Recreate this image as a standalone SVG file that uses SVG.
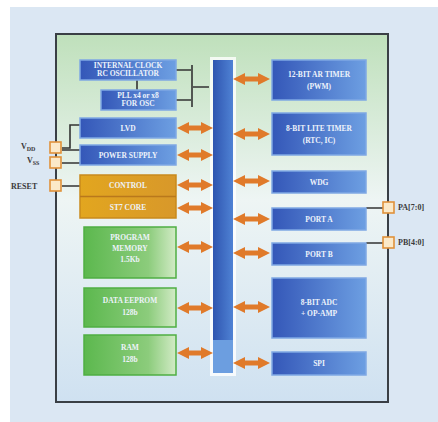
<svg xmlns="http://www.w3.org/2000/svg" width="438" height="422" viewBox="0 0 438 422">
<defs>
<linearGradient id="chip" x1="0" y1="0" x2="0" y2="1">
<stop offset="0" stop-color="#bfe0bb"/><stop offset="0.45" stop-color="#eef5f4"/><stop offset="1" stop-color="#cfe1f1"/>
</linearGradient>
<linearGradient id="blue" x1="0" y1="0" x2="1" y2="0">
<stop offset="0" stop-color="#3457b8"/><stop offset="1" stop-color="#6d9fe2"/>
</linearGradient>
<linearGradient id="green" x1="0" y1="0" x2="1" y2="0">
<stop offset="0" stop-color="#5cb84e"/><stop offset="0.7" stop-color="#8ccc7c"/><stop offset="1" stop-color="#d2ebc6"/>
</linearGradient>
<linearGradient id="yel" x1="0" y1="0" x2="1" y2="0">
<stop offset="0" stop-color="#e2a61f"/><stop offset="1" stop-color="#d8982a"/>
</linearGradient>
<linearGradient id="bus" x1="0" y1="0" x2="1" y2="0">
<stop offset="0" stop-color="#2f55b0"/><stop offset="1" stop-color="#4f82d4"/>
</linearGradient>
<marker id="ah" viewBox="0 0 10 10" refX="5" refY="5" markerWidth="2.4" markerHeight="2.4" orient="auto-start-reverse">
<path d="M0,0 L10,5 L0,10 z" fill="#e07a2a"/>
</marker>
<style>
.bx{fill:url(#blue);stroke:#7fa8e4;stroke-width:1.5}
.gx{fill:url(#green);stroke:#4fae43;stroke-width:1.5}
.t{font-family:"Liberation Serif",serif;font-weight:bold;font-size:7.5px;fill:#eef3fb;text-anchor:middle}
.pl{font-family:"Liberation Serif",serif;font-weight:bold;font-size:8px;fill:#3a3a3a;}
.ar{stroke:#e07a2a;stroke-width:5;fill:none;marker-start:url(#ah);marker-end:url(#ah)}
.ln{stroke:#333;stroke-width:1.6;fill:none}
.pin{fill:#fbe9c8;stroke:#e0913a;stroke-width:1.6}
</style>
</defs>
<rect x="0" y="0" width="438" height="422" fill="#ffffff"/>
<rect x="10" y="7" width="428" height="415" fill="#dbe7f3"/>
<g id="chip-body"><rect x="56" y="34" width="332" height="368" fill="url(#chip)" stroke="#3a3f45" stroke-width="2"/></g>

<g id="bus-bar">
<rect x="210" y="57" width="26" height="319" fill="#ffffff" opacity="0.8"/>
<rect x="213" y="60" width="20" height="313" fill="url(#bus)"/>
<rect x="213" y="340" width="20" height="33" fill="#6c9ee0"/>
</g>

<g id="connectors">
<path class="ln" d="M176,70 H191 M176,100 H191 M192,65 V107 M193,87 H209 M137,80 V90"/>
<path class="ln" d="M62,148 H70 V125 H80 M62,150 H80 M62,163 H80 M62,186 H80"/>
<path class="ln" d="M366,208 H383 M366,243 H383"/>
<line class="ar" x1="183" y1="128" x2="207" y2="128"/>
<line class="ar" x1="183" y1="155" x2="207" y2="155"/>
<line class="ar" x1="183" y1="185" x2="207" y2="185"/>
<line class="ar" x1="183" y1="208" x2="207" y2="208"/>
<line class="ar" x1="183" y1="247" x2="207" y2="247"/>
<line class="ar" x1="183" y1="308" x2="207" y2="308"/>
<line class="ar" x1="183" y1="353" x2="207" y2="353"/>
<line class="ar" x1="239" y1="79" x2="264" y2="79"/>
<line class="ar" x1="239" y1="134" x2="264" y2="134"/>
<line class="ar" x1="239" y1="181" x2="264" y2="181"/>
<line class="ar" x1="239" y1="219" x2="264" y2="219"/>
<line class="ar" x1="239" y1="253" x2="264" y2="253"/>
<line class="ar" x1="239" y1="307" x2="264" y2="307"/>
<line class="ar" x1="239" y1="363" x2="264" y2="363"/>
</g>

<g id="osc"><rect class="bx" x="80" y="60" width="96" height="20"/><text class="t" x="128" y="68" font-size="5.5">INTERNAL CLOCK</text><text class="t" x="128" y="76" font-size="5.5">RC OSCILLATOR</text></g>
<g id="pll"><rect class="bx" x="101" y="90" width="75" height="20"/><text class="t" x="138" y="98" font-size="5.5">PLL x4 or x8</text><text class="t" x="138" y="106" font-size="5.5">FOR OSC</text></g>
<g id="lvd"><rect class="bx" x="80" y="118" width="96" height="20"/><text class="t" x="128" y="131">LVD</text></g>
<g id="power"><rect class="bx" x="80" y="145" width="96" height="20"/><text class="t" x="128" y="158">POWER SUPPLY</text></g>
<g id="control"><rect x="80" y="175" width="96" height="43" fill="url(#yel)" stroke="#c98a1c" stroke-width="1.5"/><line x1="80" y1="196.5" x2="176" y2="196.5" stroke="#b9781c" stroke-width="1.5"/><text class="t" x="128" y="188" fill="#fff4d8">CONTROL</text><text class="t" x="128" y="210" fill="#fff4d8">ST7 CORE</text></g>
<g id="progmem"><rect class="gx" x="84" y="227" width="92" height="51"/><text class="t" x="130" y="240">PROGRAM</text><text class="t" x="130" y="251">MEMORY</text><text class="t" x="130" y="262">1.5Kb</text></g>
<g id="eeprom"><rect class="gx" x="84" y="288" width="92" height="39"/><text class="t" x="130" y="303">DATA EEPROM</text><text class="t" x="130" y="315">128b</text></g>
<g id="ram"><rect class="gx" x="84" y="335" width="92" height="40"/><text class="t" x="130" y="350">RAM</text><text class="t" x="130" y="362">128b</text></g>

<g id="artimer"><rect class="bx" x="272" y="60" width="94" height="40"/><text class="t" x="319" y="77">12-BIT AR TIMER</text><text class="t" x="319" y="89">(PWM)</text></g>
<g id="litetimer"><rect class="bx" x="272" y="113" width="94" height="42"/><text class="t" x="319" y="131">8-BIT LITE TIMER</text><text class="t" x="319" y="143">(RTC, IC)</text></g>
<g id="wdg"><rect class="bx" x="272" y="171" width="94" height="22"/><text class="t" x="319" y="185">WDG</text></g>
<g id="porta"><rect class="bx" x="272" y="208" width="94" height="22"/><text class="t" x="319" y="222">PORT A</text></g>
<g id="portb"><rect class="bx" x="272" y="243" width="94" height="22"/><text class="t" x="319" y="257">PORT B</text></g>
<g id="adc"><rect class="bx" x="272" y="278" width="94" height="60"/><text class="t" x="319" y="305">8-BIT ADC</text><text class="t" x="319" y="316">+ OP-AMP</text></g>
<g id="spi"><rect class="bx" x="272" y="352" width="94" height="23"/><text class="t" x="319" y="366">SPI</text></g>

<g id="pin-vdd"><rect class="pin" x="50" y="142" width="11" height="11"/><text class="pl" x="21" y="149">V<tspan font-size="6" dy="1.5">DD</tspan></text></g>
<g id="pin-vss"><rect class="pin" x="50" y="157" width="11" height="11"/><text class="pl" x="27" y="163">V<tspan font-size="6" dy="1.5">SS</tspan></text></g>
<g id="pin-reset"><rect class="pin" x="50" y="180" width="11" height="11"/><text class="pl" x="11" y="189" font-size="7">RESET</text></g>
<g id="pin-pa"><rect class="pin" x="383" y="202" width="11" height="11"/><text class="pl" x="398" y="210" font-size="7">PA[7:0]</text></g>
<g id="pin-pb"><rect class="pin" x="383" y="237" width="11" height="11"/><text class="pl" x="398" y="245" font-size="7">PB[4:0]</text></g>
</svg>
